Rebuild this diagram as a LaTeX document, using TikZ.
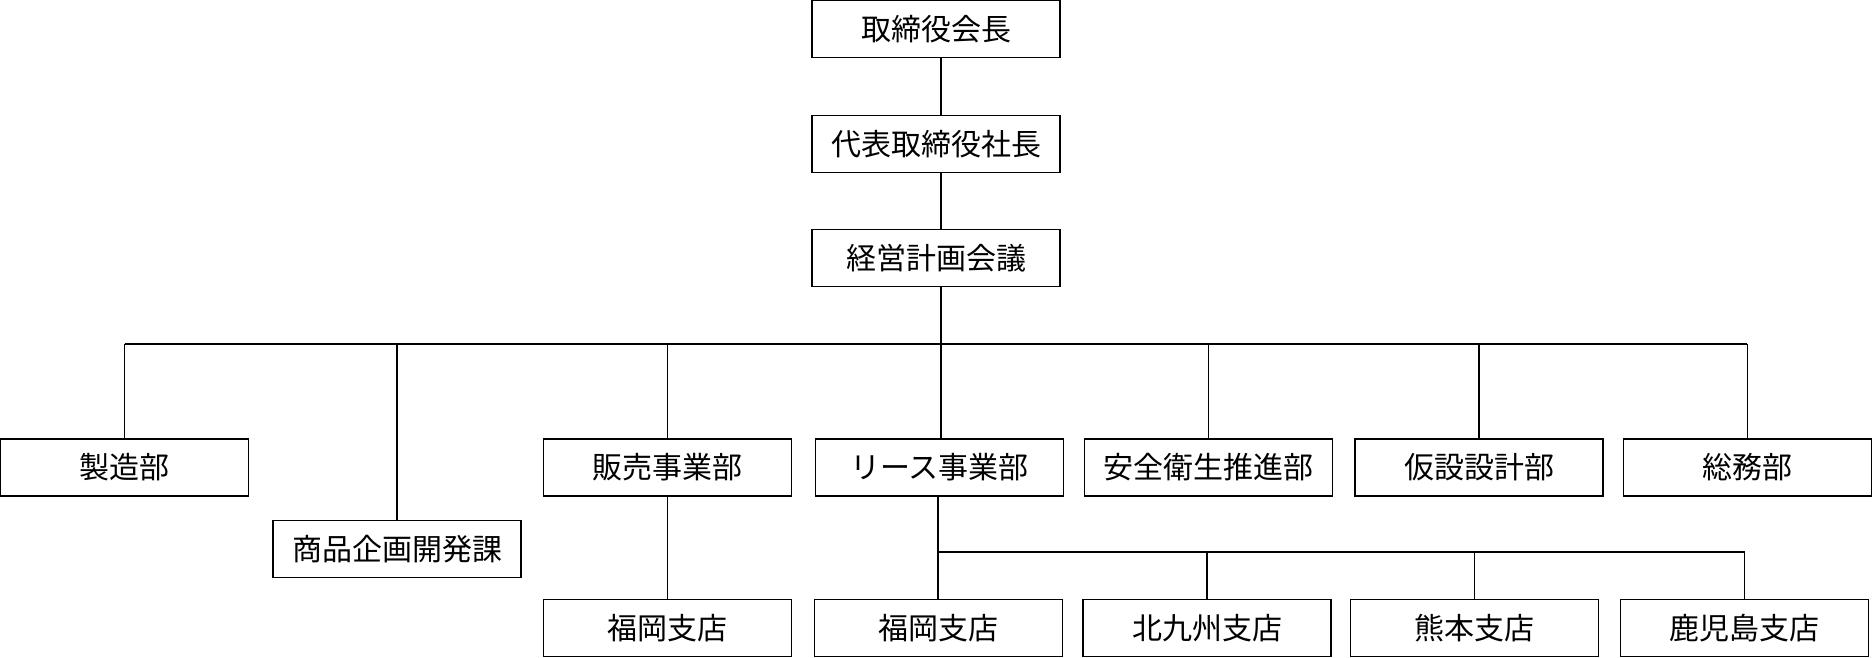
\documentclass[tikz,border=0pt]{standalone}
\usepackage{fontspec}
\newfontfamily\jp{Noto Sans CJK JP}
\begin{document}
\begin{tikzpicture}[x=1pt,y=-1pt,
  box/.style={draw, line width=1.2pt, minimum width=248pt, minimum height=57pt, inner sep=0pt, font=\jp\fontsize{30}{36}\selectfont},
  conn/.style={line width=1.2pt}]
\useasboundingbox (0,0) rectangle (1872,658);
% top chain
\node[box] (ceo)  at (936,29)  {取締役会長};
\node[box] (pres) at (936,144) {代表取締役社長};
\node[box] (plan) at (936,258) {経営計画会議};
% row 1
\node[box] (mfg)   at (124.6,467.5) {製造部};
\node[box] (prod)  at (397,549)     {商品企画開発課};
\node[box] (sales) at (667.5,467.5) {販売事業部};
\node[box] (lease) at (939.5,467.5) {リース事業部};
\node[box] (safe)  at (1208.5,467.5) {安全衛生推進部};
\node[box] (temp)  at (1479,467.5)  {仮設設計部};
\node[box] (gen)   at (1747.4,467.5) {総務部};
% row 2
\node[box] (fk1) at (667.5,628)  {福岡支店};
\node[box] (fk2) at (938.5,628)  {福岡支店};
\node[box] (kk)  at (1207,628)   {北九州支店};
\node[box] (km)  at (1474.5,628) {熊本支店};
\node[box] (kg)  at (1744.5,628) {鹿児島支店};
% buses
\coordinate (bus)  at (941,344);
\coordinate (bus2) at (938,552);
% connectors: top chain
\draw[conn] (ceo.south -| bus) -- (pres.north -| bus);
\draw[conn] (pres.south -| bus) -- (plan.north -| bus);
\draw[conn] (plan.south -| bus) -- (bus);
% main bus
\draw[conn] (mfg.north |- bus) -- (gen.north |- bus);
\draw[conn] (mfg.north) -- (mfg.north |- bus);
\draw[conn] (prod.north) -- (prod.north |- bus);
\draw[conn] (sales.north) -- (sales.north |- bus);
\draw[conn] (lease.north -| bus) -- (bus);
\draw[conn] (safe.north) -- (safe.north |- bus);
\draw[conn] (temp.north) -- (temp.north |- bus);
\draw[conn] (gen.north) -- (gen.north |- bus);
% sales branch
\draw[conn] (sales.south) -- (fk1.north);
% lease branch
\draw[conn] (lease.south -| bus2) -- (fk2.north -| bus2);
\draw[conn] (bus2) -- (kg.north |- bus2);
\draw[conn] (kk.north) -- (kk.north |- bus2);
\draw[conn] (km.north) -- (km.north |- bus2);
\draw[conn] (kg.north) -- (kg.north |- bus2);
\end{tikzpicture}
\end{document}
